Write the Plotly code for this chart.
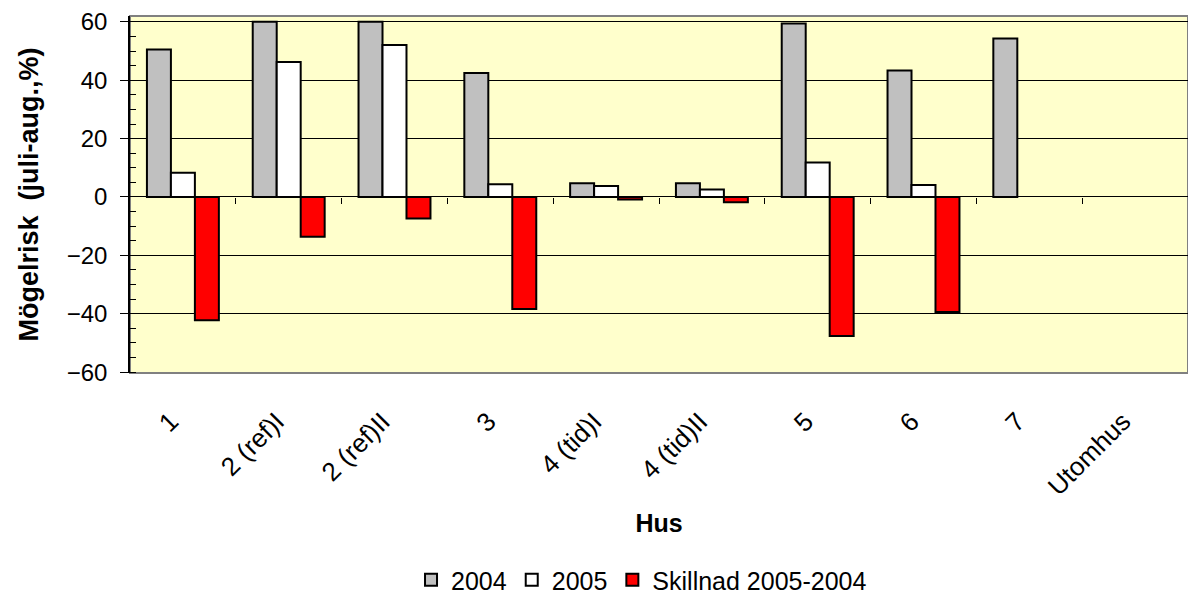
#%% Importar librerias
import plotly.graph_objects as go

# %% Datos
hus = ["1", "2 (ref)I", "2 (ref)II", "3", "4 (tid)I", "4 (tid)II", "5", "6", "7", "Utomhus"]
risk_2004 = [50.5, 60.0, 60.0, 42.5, 4.7, 4.7, 59.4, 43.3, 54.3, None]
risk_2005 = [8.3, 46.2, 52.1, 4.4, 3.8, 2.6, 11.8, 4.1, None, None]
skillnad = [-42.2, -13.6, -7.4, -38.4, -0.9, -1.8, -47.6, -39.4, None, None]

y_ticks = [-60, -40, -20, 0, 20, 40, 60]

FONT = "Liberation Sans, Arial, sans-serif"

# %% Figura
fig = go.Figure()

fig.add_trace(go.Bar(
    x=hus, y=risk_2004, name="2004",
    marker=dict(color="#C0C0C0", line=dict(color="black", width=2))
))
fig.add_trace(go.Bar(
    x=hus, y=risk_2005, name="2005",
    marker=dict(color="#FFFFFF", line=dict(color="black", width=2))
))
fig.add_trace(go.Bar(
    x=hus, y=skillnad, name="Skillnad 2005-2004",
    marker=dict(color="#FF0000", line=dict(color="black", width=2))
))

# marcas de categoria sobre la linea cero
boundaries = [i + 0.5 for i in range(len(hus))]

fig.update_layout(
    width=1188, height=598,
    margin=dict(l=130, r=0, t=16, b=225),
    paper_bgcolor="white",
    plot_bgcolor="#FFFFCC",
    font=dict(family=FONT, size=24, color="black"),
    barmode="group",
    bargap=0.32,
    bargroupgap=0,
    showlegend=True,
    legend=dict(
        orientation="h", xref="container", yref="container",
        x=0.54, y=0.03, xanchor="center", yanchor="middle",
        font=dict(family=FONT, size=25, color="black"),
        itemwidth=30, traceorder="normal",
    ),
    xaxis=dict(
        type="category", automargin=False,
        range=[-0.5, len(hus) - 0.5],
        tickangle=-45,
        tickfont=dict(family=FONT, size=26, color="black"),
        ticks="outside", ticklen=22, tickcolor="rgba(0,0,0,0)",
        ticklabelshift=-12,
        showgrid=False, showline=False, zeroline=False,
        title=dict(text="<b>Hus</b>", standoff=14,
                   font=dict(family=FONT, size=25, color="black")),
    ),
    xaxis2=dict(
        overlaying="x", anchor="free", position=60.3 / 122.3,
        range=[-0.5, len(hus) - 0.5], automargin=False,
        tickmode="array", tickvals=boundaries, showticklabels=False,
        ticks="outside", ticklen=6, tickcolor="black", tickwidth=1,
        showgrid=False, showline=False, zeroline=False,
    ),
    yaxis=dict(
        range=[-60.3, 62], automargin=False,
        tickmode="array", tickvals=y_ticks,
        tickfont=dict(family=FONT, size=24, color="black"),
        ticks="outside", ticklen=8, tickcolor="black", tickwidth=1,
        ticklabelstandoff=8,
        minor=dict(ticks="inside", dtick=5, ticklen=6, tickcolor="black", showgrid=False),
        showgrid=True, gridcolor="black", gridwidth=1,
        zeroline=True, zerolinecolor="black", zerolinewidth=1,
        showline=True, linecolor="black", linewidth=1.5,
        title=dict(text="<b>Mögelrisk  (juli-aug.,%)</b>", standoff=20,
                   font=dict(family=FONT, size=27, color="black")),
    ),
    shapes=[dict(
        type="rect", xref="paper", yref="paper", x0=0, x1=1, y0=0, y1=1,
        line=dict(color="#808080", width=2), layer="below",
    )],
)

# traza invisible para que se dibuje el eje x2
fig.add_trace(go.Scatter(x=[0], y=[0], xaxis="x2", mode="markers",
                         marker=dict(opacity=0), showlegend=False, hoverinfo="skip"))

fig.write_html("out.html", config={"displayModeBar": False},
               post_script="document.body.style.margin='0';")
